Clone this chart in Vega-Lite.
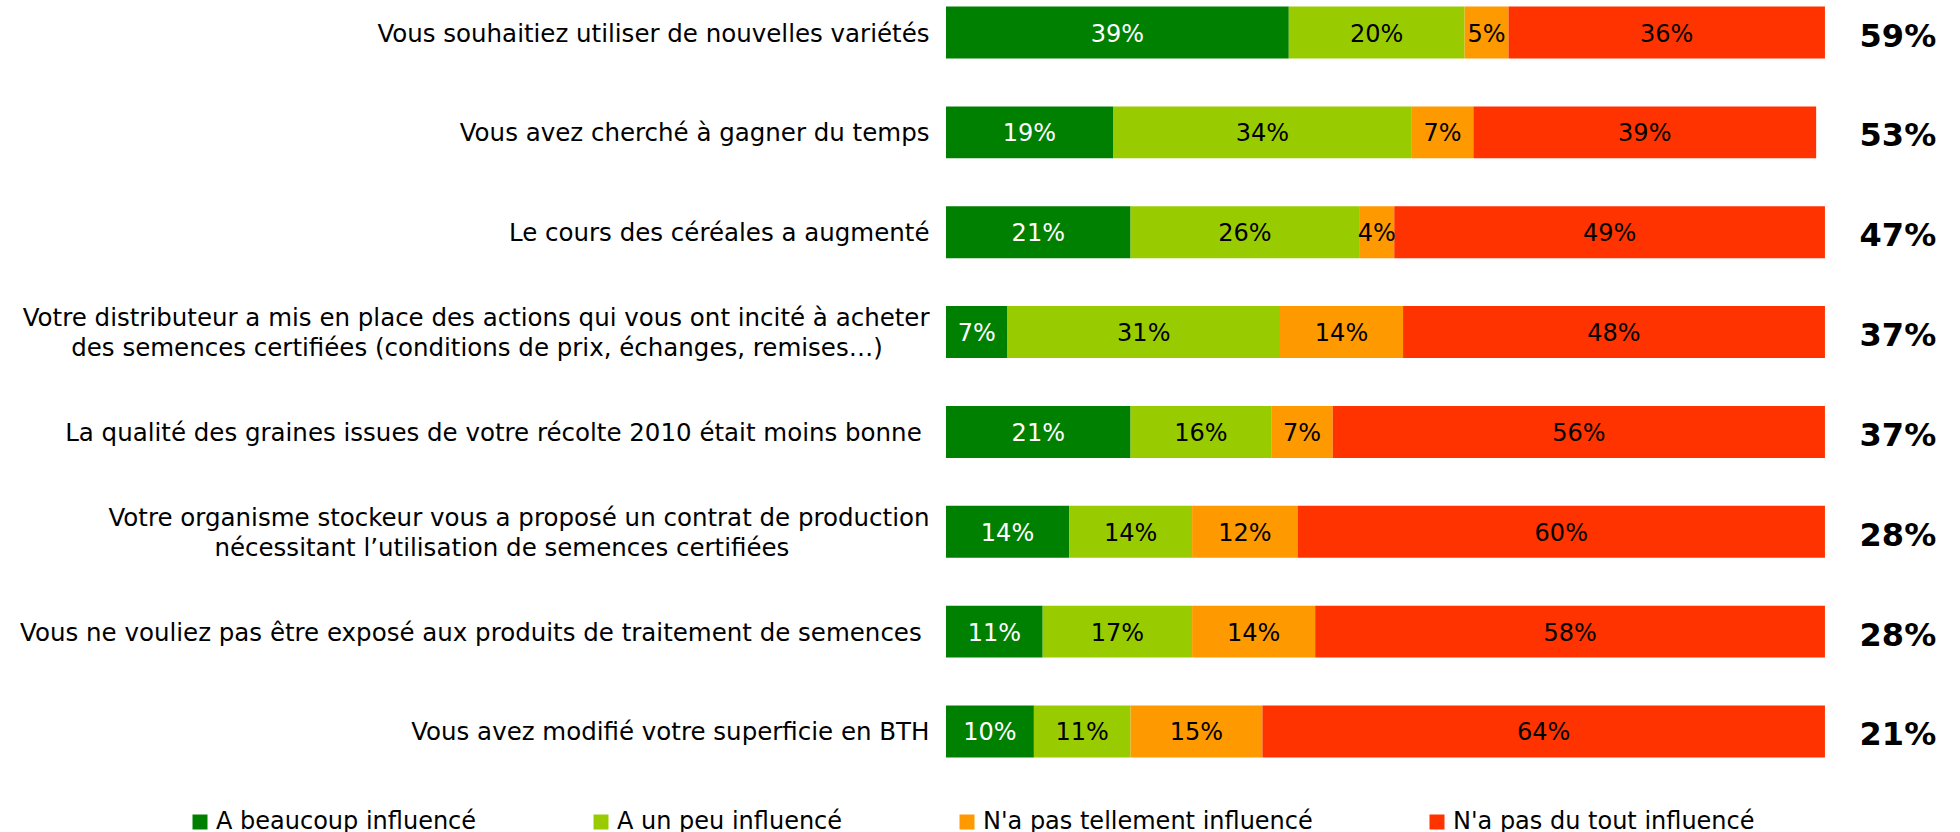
{
  "$schema": "https://vega.github.io/schema/vega-lite/v6.json",
  "width": 1002,
  "height": 764,
  "autosize": {"type": "none"},
  "padding": {"left": 946, "top": 0, "right": 12, "bottom": 68},
  "background": "white",
  "config": {"view": {"stroke": null}, "font": "DejaVu Sans"},
  "data": {"values": [
    {"rank": 1, "q": "Vous souhaitiez utiliser de nouvelles variétés", "cat": "A beaucoup influencé", "order": 1, "value": 39, "total": 59},
    {"rank": 1, "q": "Vous souhaitiez utiliser de nouvelles variétés", "cat": "A un peu influencé", "order": 2, "value": 20, "total": 59},
    {"rank": 1, "q": "Vous souhaitiez utiliser de nouvelles variétés", "cat": "N'a pas tellement influencé", "order": 3, "value": 5, "total": 59},
    {"rank": 1, "q": "Vous souhaitiez utiliser de nouvelles variétés", "cat": "N'a pas du tout influencé", "order": 4, "value": 36, "total": 59},
    {"rank": 2, "q": "Vous avez cherché à gagner du temps", "cat": "A beaucoup influencé", "order": 1, "value": 19, "total": 53},
    {"rank": 2, "q": "Vous avez cherché à gagner du temps", "cat": "A un peu influencé", "order": 2, "value": 34, "total": 53},
    {"rank": 2, "q": "Vous avez cherché à gagner du temps", "cat": "N'a pas tellement influencé", "order": 3, "value": 7, "total": 53},
    {"rank": 2, "q": "Vous avez cherché à gagner du temps", "cat": "N'a pas du tout influencé", "order": 4, "value": 39, "total": 53},
    {"rank": 3, "q": "Le cours des céréales a augmenté", "cat": "A beaucoup influencé", "order": 1, "value": 21, "total": 47},
    {"rank": 3, "q": "Le cours des céréales a augmenté", "cat": "A un peu influencé", "order": 2, "value": 26, "total": 47},
    {"rank": 3, "q": "Le cours des céréales a augmenté", "cat": "N'a pas tellement influencé", "order": 3, "value": 4, "total": 47},
    {"rank": 3, "q": "Le cours des céréales a augmenté", "cat": "N'a pas du tout influencé", "order": 4, "value": 49, "total": 47},
    {"rank": 4, "q": "Votre distributeur a mis en place des actions qui vous ont incité à acheter\ndes semences certifiées (conditions de prix, échanges, remises…)\u00a0\u00a0\u00a0\u00a0\u00a0\u00a0\u200b", "cat": "A beaucoup influencé", "order": 1, "value": 7, "total": 37},
    {"rank": 4, "q": "Votre distributeur a mis en place des actions qui vous ont incité à acheter\ndes semences certifiées (conditions de prix, échanges, remises…)\u00a0\u00a0\u00a0\u00a0\u00a0\u00a0\u200b", "cat": "A un peu influencé", "order": 2, "value": 31, "total": 37},
    {"rank": 4, "q": "Votre distributeur a mis en place des actions qui vous ont incité à acheter\ndes semences certifiées (conditions de prix, échanges, remises…)\u00a0\u00a0\u00a0\u00a0\u00a0\u00a0\u200b", "cat": "N'a pas tellement influencé", "order": 3, "value": 14, "total": 37},
    {"rank": 4, "q": "Votre distributeur a mis en place des actions qui vous ont incité à acheter\ndes semences certifiées (conditions de prix, échanges, remises…)\u00a0\u00a0\u00a0\u00a0\u00a0\u00a0\u200b", "cat": "N'a pas du tout influencé", "order": 4, "value": 48, "total": 37},
    {"rank": 5, "q": "La qualité des graines issues de votre récolte 2010 était moins bonne\u00a0\u200b", "cat": "A beaucoup influencé", "order": 1, "value": 21, "total": 37},
    {"rank": 5, "q": "La qualité des graines issues de votre récolte 2010 était moins bonne\u00a0\u200b", "cat": "A un peu influencé", "order": 2, "value": 16, "total": 37},
    {"rank": 5, "q": "La qualité des graines issues de votre récolte 2010 était moins bonne\u00a0\u200b", "cat": "N'a pas tellement influencé", "order": 3, "value": 7, "total": 37},
    {"rank": 5, "q": "La qualité des graines issues de votre récolte 2010 était moins bonne\u00a0\u200b", "cat": "N'a pas du tout influencé", "order": 4, "value": 56, "total": 37},
    {"rank": 6, "q": "Votre organisme stockeur vous a  proposé un contrat de production\nnécessitant l’utilisation de semences certifiées\u00a0\u00a0\u00a0\u00a0\u00a0\u00a0\u00a0\u00a0\u00a0\u00a0\u00a0\u00a0\u00a0\u00a0\u00a0\u00a0\u00a0\u00a0\u200b", "cat": "A beaucoup influencé", "order": 1, "value": 14, "total": 28},
    {"rank": 6, "q": "Votre organisme stockeur vous a  proposé un contrat de production\nnécessitant l’utilisation de semences certifiées\u00a0\u00a0\u00a0\u00a0\u00a0\u00a0\u00a0\u00a0\u00a0\u00a0\u00a0\u00a0\u00a0\u00a0\u00a0\u00a0\u00a0\u00a0\u200b", "cat": "A un peu influencé", "order": 2, "value": 14, "total": 28},
    {"rank": 6, "q": "Votre organisme stockeur vous a  proposé un contrat de production\nnécessitant l’utilisation de semences certifiées\u00a0\u00a0\u00a0\u00a0\u00a0\u00a0\u00a0\u00a0\u00a0\u00a0\u00a0\u00a0\u00a0\u00a0\u00a0\u00a0\u00a0\u00a0\u200b", "cat": "N'a pas tellement influencé", "order": 3, "value": 12, "total": 28},
    {"rank": 6, "q": "Votre organisme stockeur vous a  proposé un contrat de production\nnécessitant l’utilisation de semences certifiées\u00a0\u00a0\u00a0\u00a0\u00a0\u00a0\u00a0\u00a0\u00a0\u00a0\u00a0\u00a0\u00a0\u00a0\u00a0\u00a0\u00a0\u00a0\u200b", "cat": "N'a pas du tout influencé", "order": 4, "value": 60, "total": 28},
    {"rank": 7, "q": "Vous ne vouliez pas être exposé aux produits de traitement de semences\u00a0\u200b", "cat": "A beaucoup influencé", "order": 1, "value": 11, "total": 28},
    {"rank": 7, "q": "Vous ne vouliez pas être exposé aux produits de traitement de semences\u00a0\u200b", "cat": "A un peu influencé", "order": 2, "value": 17, "total": 28},
    {"rank": 7, "q": "Vous ne vouliez pas être exposé aux produits de traitement de semences\u00a0\u200b", "cat": "N'a pas tellement influencé", "order": 3, "value": 14, "total": 28},
    {"rank": 7, "q": "Vous ne vouliez pas être exposé aux produits de traitement de semences\u00a0\u200b", "cat": "N'a pas du tout influencé", "order": 4, "value": 58, "total": 28},
    {"rank": 8, "q": "Vous avez modifié votre superficie en BTH", "cat": "A beaucoup influencé", "order": 1, "value": 10, "total": 21},
    {"rank": 8, "q": "Vous avez modifié votre superficie en BTH", "cat": "A un peu influencé", "order": 2, "value": 11, "total": 21},
    {"rank": 8, "q": "Vous avez modifié votre superficie en BTH", "cat": "N'a pas tellement influencé", "order": 3, "value": 15, "total": 21},
    {"rank": 8, "q": "Vous avez modifié votre superficie en BTH", "cat": "N'a pas du tout influencé", "order": 4, "value": 64, "total": 21}
  ]},
  "transform": [
    {"stack": "value", "groupby": ["q"], "sort": [{"field": "order"}], "as": ["x0", "x1"]},
    {"calculate": "(datum.x0 + datum.x1) / 2", "as": "mid"},
    {"calculate": "datum.value + '%'", "as": "vlabel"},
    {"calculate": "datum.total + '%'", "as": "tlabel"}
  ],
  "encoding": {
    "y": {
      "field": "q", "type": "nominal",
      "sort": {"field": "rank", "op": "min"},
      "scale": {"paddingInner": 0.48, "paddingOuter": 0.066},
      "axis": {
        "title": null, "ticks": false, "domain": false, "grid": false,
        "labelFontSize": 24.5, "labelColor": "#000000", "labelPadding": 17,
        "labelLimit": 0, "labelLineHeight": 30, "labelFont": "DejaVu Sans",
        "labelOffset": {"condition": {"test": "indexof(datum.value, '\\n') >= 0", "value": -13}, "value": 2},
        "labelExpr": "split(datum.label, '\\n')"
      }
    }
  },
  "layer": [
    {
      "mark": {"type": "bar"},
      "encoding": {
        "x": {"field": "x0", "type": "quantitative", "scale": {"domain": [0, 114], "nice": false, "zero": true}, "axis": null},
        "x2": {"field": "x1"},
        "color": {
          "field": "cat", "type": "nominal",
          "scale": {
            "domain": ["A beaucoup influencé", "A un peu influencé", "N'a pas tellement influencé", "N'a pas du tout influencé"],
            "range": ["#008000", "#99CC00", "#FF9900", "#FF3300"]
          },
          "legend": {
            "title": null, "orient": "none", "direction": "horizontal",
            "legendX": -758, "legendY": 810, "padding": 0,
            "symbolType": "square", "symbolSize": 225, "symbolStrokeWidth": 0,
            "labelFontSize": 24, "labelColor": "#000000", "labelOffset": 4,
            "columnPadding": 112, "labelLimit": 0, "labelFont": "DejaVu Sans"
          }
        }
      }
    },
    {
      "mark": {"type": "text", "fontSize": 24, "align": "center", "baseline": "middle", "dy": 2},
      "encoding": {
        "x": {"field": "mid", "type": "quantitative"},
        "text": {"field": "vlabel"},
        "color": {"condition": {"test": "datum.order == 1", "value": "#ffffff"}, "value": "#000000"}
      }
    },
    {
      "transform": [{"filter": "datum.order == 1"}],
      "mark": {"type": "text", "fontSize": 32, "fontWeight": "bold", "align": "center", "baseline": "middle", "color": "#000000", "dy": 4},
      "encoding": {
        "x": {"datum": 108.3, "type": "quantitative"},
        "text": {"field": "tlabel"}
      }
    }
  ]
}
